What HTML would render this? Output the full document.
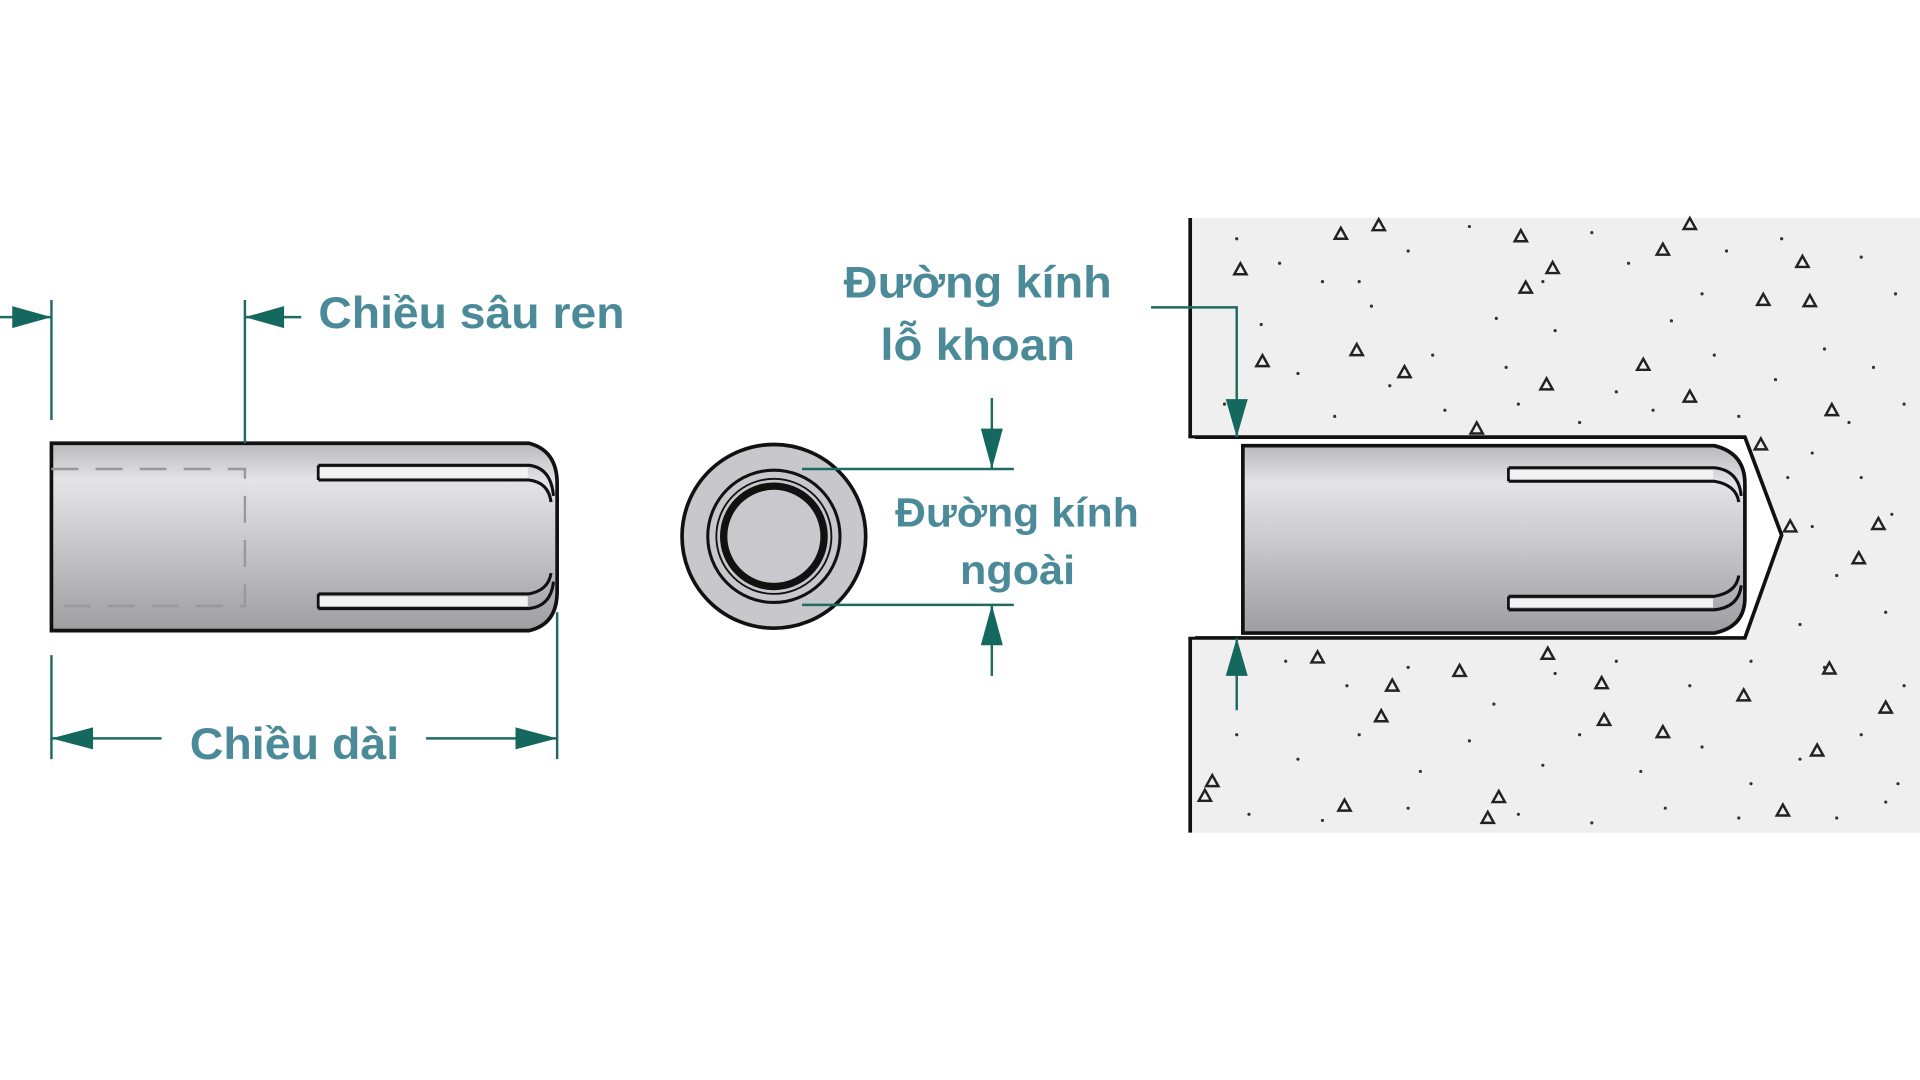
<!DOCTYPE html>
<html><head><meta charset="utf-8"><style>
html,body{margin:0;padding:0;background:#fff;width:1920px;height:1080px;overflow:hidden}
svg{display:block}
text{font-family:"Liberation Sans","DejaVu Sans",sans-serif;font-weight:bold;fill:#4b8a98}
</style></head><body>
<svg width="1920" height="1080" viewBox="0 0 1568 882" preserveAspectRatio="none" xmlns="http://www.w3.org/2000/svg">
<defs>
<linearGradient id="g" x1="0" y1="0" x2="0" y2="1">
<stop offset="0" stop-color="#b9b9bc"/>
<stop offset="0.2" stop-color="#e4e4e7"/>
<stop offset="0.45" stop-color="#cfcfd2"/>
<stop offset="1" stop-color="#9e9ea1"/>
</linearGradient>
<g id="tri"><path d="M0,-5 L5,4 L-5,4 Z" fill="none" stroke="#222" stroke-width="2"/></g>
</defs>
<rect width="1568" height="882" fill="#fff"/>

<!-- concrete block -->
<rect x="972" y="178" width="596" height="502" fill="#efefef"/>
<path d="M972,357 L1425,357 L1455,437 L1425,521 L972,521 Z" fill="#fff" stroke="#111" stroke-width="3"/>
<line x1="972" y1="178" x2="972" y2="357" stroke="#111" stroke-width="3"/>
<line x1="972" y1="521" x2="972" y2="680" stroke="#111" stroke-width="3"/>
<rect x="968" y="358" width="8" height="162" fill="#fff"/>
<g fill="#333">
<circle cx="1010" cy="195" r="1.3"/><circle cx="1045" cy="215" r="1.3"/><circle cx="1080" cy="230" r="1.3"/><circle cx="1150" cy="205" r="1.3"/><circle cx="1200" cy="185" r="1.3"/><circle cx="1222" cy="260" r="1.3"/><circle cx="1300" cy="190" r="1.3"/><circle cx="1330" cy="215" r="1.3"/><circle cx="1410" cy="205" r="1.3"/><circle cx="1455" cy="195" r="1.3"/><circle cx="1520" cy="210" r="1.3"/><circle cx="1548" cy="240" r="1.3"/><circle cx="1030" cy="265" r="1.3"/><circle cx="1060" cy="305" r="1.3"/><circle cx="1120" cy="250" r="1.3"/><circle cx="1170" cy="290" r="1.3"/><circle cx="1230" cy="300" r="1.3"/><circle cx="1270" cy="270" r="1.3"/><circle cx="1320" cy="320" r="1.3"/><circle cx="1365" cy="262" r="1.3"/><circle cx="1400" cy="290" r="1.3"/><circle cx="1450" cy="310" r="1.3"/><circle cx="1490" cy="285" r="1.3"/><circle cx="1530" cy="300" r="1.3"/><circle cx="1555" cy="330" r="1.3"/><circle cx="1000" cy="330" r="1.3"/><circle cx="1090" cy="340" r="1.3"/><circle cx="1180" cy="335" r="1.3"/><circle cx="1290" cy="345" r="1.3"/><circle cx="1350" cy="335" r="1.3"/><circle cx="1420" cy="340" r="1.3"/><circle cx="1480" cy="370" r="1.3"/><circle cx="1520" cy="390" r="1.3"/><circle cx="1545" cy="420" r="1.3"/><circle cx="1480" cy="430" r="1.3"/><circle cx="1500" cy="470" r="1.3"/><circle cx="1540" cy="500" r="1.3"/><circle cx="1470" cy="510" r="1.3"/><circle cx="1490" cy="545" r="1.3"/><circle cx="1555" cy="560" r="1.3"/><circle cx="1050" cy="540" r="1.3"/><circle cx="1100" cy="560" r="1.3"/><circle cx="1150" cy="545" r="1.3"/><circle cx="1220" cy="575" r="1.3"/><circle cx="1270" cy="550" r="1.3"/><circle cx="1320" cy="540" r="1.3"/><circle cx="1380" cy="560" r="1.3"/><circle cx="1430" cy="540" r="1.3"/><circle cx="1010" cy="600" r="1.3"/><circle cx="1060" cy="620" r="1.3"/><circle cx="1110" cy="600" r="1.3"/><circle cx="1160" cy="630" r="1.3"/><circle cx="1200" cy="605" r="1.3"/><circle cx="1260" cy="625" r="1.3"/><circle cx="1290" cy="600" r="1.3"/><circle cx="1340" cy="630" r="1.3"/><circle cx="1390" cy="610" r="1.3"/><circle cx="1430" cy="640" r="1.3"/><circle cx="1470" cy="620" r="1.3"/><circle cx="1520" cy="600" r="1.3"/><circle cx="1550" cy="640" r="1.3"/><circle cx="1020" cy="665" r="1.3"/><circle cx="1080" cy="670" r="1.3"/><circle cx="1150" cy="660" r="1.3"/><circle cx="1240" cy="665" r="1.3"/><circle cx="1300" cy="672" r="1.3"/><circle cx="1360" cy="660" r="1.3"/><circle cx="1420" cy="668" r="1.3"/><circle cx="1500" cy="668" r="1.3"/><circle cx="1540" cy="655" r="1.3"/><circle cx="1110" cy="230" r="1.3"/><circle cx="1260" cy="230" r="1.3"/><circle cx="1390" cy="240" r="1.3"/><circle cx="1510" cy="345" r="1.3"/><circle cx="1460" cy="390" r="1.3"/><circle cx="1135" cy="315" r="1.3"/><circle cx="1240" cy="330" r="1.3"/>
</g>
<g>
<use href="#tri" x="1095" y="191"/><use href="#tri" x="1126" y="184"/><use href="#tri" x="1242" y="193"/><use href="#tri" x="1268" y="219"/><use href="#tri" x="1358" y="204"/><use href="#tri" x="1380" y="183"/><use href="#tri" x="1472" y="214"/><use href="#tri" x="1013" y="220"/><use href="#tri" x="1246" y="235"/><use href="#tri" x="1440" y="245"/><use href="#tri" x="1478" y="246"/><use href="#tri" x="1031" y="295"/><use href="#tri" x="1108" y="286"/><use href="#tri" x="1147" y="304"/><use href="#tri" x="1263" y="314"/><use href="#tri" x="1342" y="298"/><use href="#tri" x="1380" y="324"/><use href="#tri" x="1496" y="335"/><use href="#tri" x="1206" y="350"/><use href="#tri" x="1438" y="363"/><use href="#tri" x="1462" y="430"/><use href="#tri" x="1534" y="428"/><use href="#tri" x="1518" y="456"/><use href="#tri" x="1076" y="537"/><use href="#tri" x="1137" y="560"/><use href="#tri" x="1192" y="548"/><use href="#tri" x="1264" y="534"/><use href="#tri" x="1308" y="558"/><use href="#tri" x="1128" y="585"/><use href="#tri" x="1310" y="588"/><use href="#tri" x="1358" y="598"/><use href="#tri" x="1424" y="568"/><use href="#tri" x="1494" y="546"/><use href="#tri" x="1540" y="578"/><use href="#tri" x="1484" y="613"/><use href="#tri" x="990" y="638"/><use href="#tri" x="984" y="650"/><use href="#tri" x="1098" y="658"/><use href="#tri" x="1224" y="651"/><use href="#tri" x="1215" y="668"/><use href="#tri" x="1456" y="662"/>
</g>
<!-- sleeve in hole -->
<path d="M1015,364 L1400,364 Q1425,370 1425,395 L1425,488 Q1425,512 1400,517 L1015,517 Z" fill="url(#g)" stroke="#111" stroke-width="3"/>
<path d="M1232,382 L1400,382 Q1420,384 1422,405 M1232,393 L1400,393 Q1418,396 1420,410 M1232,382 L1232,393" fill="none" stroke="#111" stroke-width="2.5"/>
<path d="M1232,487 L1400,487 Q1418,484 1420,470 M1232,498 L1400,498 Q1420,496 1422,478 M1232,487 L1232,498" fill="none" stroke="#111" stroke-width="2.5"/>
<rect x="1233" y="384" width="166" height="7" fill="#f2f2f2"/>
<rect x="1233" y="489" width="166" height="7" fill="#f2f2f2"/>

<!-- left sleeve -->
<path d="M42,362 L432,362 Q455,368 455,395 L455,483 Q455,510 432,515 L42,515 Z" fill="url(#g)" stroke="#111" stroke-width="3"/>
<path d="M42,383 L200,383 L200,495 L42,495" fill="none" stroke="#999" stroke-width="2" stroke-dasharray="22,14"/>
<path d="M260,380 L432,380 Q450,382 452,405 M260,392 L432,392 Q448,394 450,410 M260,380 L260,392" fill="none" stroke="#111" stroke-width="2.5"/>
<path d="M260,485 L432,485 Q448,482 450,468 M260,497 L432,497 Q450,495 452,475 M260,485 L260,497" fill="none" stroke="#111" stroke-width="2.5"/>
<rect x="261" y="382" width="170" height="8" fill="#f2f2f2"/>
<rect x="261" y="487" width="170" height="8" fill="#f2f2f2"/>

<!-- end view -->
<circle cx="632" cy="438" r="75" fill="#c8c8cc" stroke="#111" stroke-width="3"/>
<circle cx="632" cy="438" r="54" fill="none" stroke="#111" stroke-width="2.5"/>
<circle cx="632" cy="438" r="47" fill="none" stroke="#111" stroke-width="1.5"/>
<circle cx="632" cy="438" r="41" fill="#c9c9cd" stroke="#111" stroke-width="6"/>

<!-- dimension lines -->
<g stroke="#1f6b63" stroke-width="2" fill="none">
<line x1="42" y1="245" x2="42" y2="343"/>
<line x1="0" y1="259" x2="42" y2="259"/>
<line x1="200" y1="245" x2="200" y2="362"/>
<line x1="200" y1="259" x2="246" y2="259"/>
<line x1="42" y1="535" x2="42" y2="620"/>
<line x1="455" y1="500" x2="455" y2="620"/>
<line x1="42" y1="603" x2="132" y2="603"/>
<line x1="348" y1="603" x2="455" y2="603"/>
<line x1="655" y1="383" x2="828" y2="383"/>
<line x1="655" y1="494" x2="828" y2="494"/>
<line x1="810" y1="325" x2="810" y2="383"/>
<line x1="810" y1="494" x2="810" y2="552"/>
<path d="M940,251 L1010,251 L1010,357"/>
<line x1="1010" y1="521" x2="1010" y2="580"/>
</g>
<g fill="#14685e">
<path d="M42,259 L10,250 L10,268 Z"/>
<path d="M200,259 L232,250 L232,268 Z"/>
<path d="M42,603 L76,594 L76,612 Z"/>
<path d="M455,603 L421,594 L421,612 Z"/>
<path d="M810,383 L801,350 L819,350 Z"/>
<path d="M810,494 L801,527 L819,527 Z"/>
<path d="M1010,357 L1001,326 L1019,326 Z"/>
<path d="M1010,521 L1001,552 L1019,552 Z"/>
</g>

<!-- labels -->
<text x="260" y="268" font-size="36" textLength="250" lengthAdjust="spacingAndGlyphs">Chiều sâu ren</text>
<text x="155" y="620" font-size="36" textLength="171" lengthAdjust="spacingAndGlyphs">Chiều dài</text>
<text x="689" y="243" font-size="36" textLength="219" lengthAdjust="spacingAndGlyphs">Đường kính</text>
<text x="719" y="294" font-size="36" textLength="159" lengthAdjust="spacingAndGlyphs">lỗ khoan</text>
<text x="731" y="430" font-size="33" textLength="199" lengthAdjust="spacingAndGlyphs">Đường kính</text>
<text x="784" y="477" font-size="33" textLength="94" lengthAdjust="spacingAndGlyphs">ngoài</text>
</svg>
</body></html>
